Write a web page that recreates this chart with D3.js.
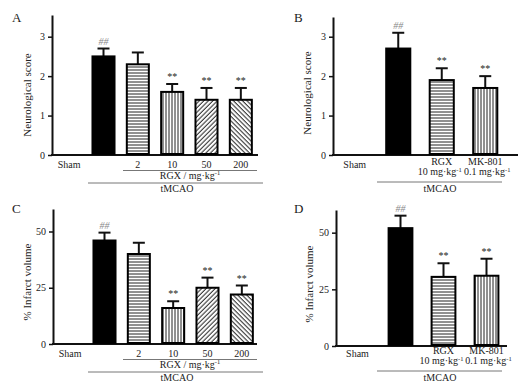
<!DOCTYPE html>
<html>
<head>
<meta charset="utf-8">
<script src="https://cdn.jsdelivr.net/npm/d3@7"></script>
<style>
  body { margin: 0; background: #fff; }
  svg { display: block; font-family: "Liberation Serif", "DejaVu Serif", serif; }
  text { fill: #222; }
</style>
</head>
<body>
<svg width="532" height="389"></svg>
<script>
const svg = d3.select('svg');

// data
const doseGroups = ['Sham', 'tMCAO', '2', '10', '50', '200'];
const drugGroups = ['Sham', 'tMCAO', 'RGX', 'MK-801'];

const scoreDoseMeans = [0, 2.5, 2.3, 1.6, 1.4, 1.4];
const scoreDoseErrs = [0, 0.2, 0.3, 0.2, 0.3, 0.3];
const scoreDrugMeans = [0, 2.7, 1.9, 1.7];
const scoreDrugErrs = [0, 0.4, 0.3, 0.3];

const infarctDoseMeans = [0, 46, 40, 16, 25, 22];
const infarctDoseErrs = [0, 3.5, 5, 3, 4.5, 4];
const infarctDrugMeans = [0, 52, 30.5, 31];
const infarctDrugErrs = [0, 5.5, 6, 7.5];

const doseMarks = ['', '##', '', '**', '**', '**'];
const drugMarks = ['', '##', '**', '**'];

const scoreTicks = [0, 1, 2, 3];
const infarctTicks = [0, 25, 50];

const doseFills = ['none', 'solid', 'horiz', 'vert', 'diagR', 'diagL'];
const drugFills = ['none', 'solid', 'horiz', 'vert'];

// hatch patterns
const defs = svg.append('defs');
const addPattern = (id, w, h, lines, rotate) => {
  const p = defs.append('pattern')
    .attr('id', id)
    .attr('patternUnits', 'userSpaceOnUse')
    .attr('width', w).attr('height', h);
  if (rotate) p.attr('patternTransform', `rotate(${rotate})`);
  p.append('rect').attr('width', w).attr('height', h).attr('fill', '#fff');
  lines.forEach(l => p.append('line')
    .attr('x1', l[0]).attr('y1', l[1]).attr('x2', l[2]).attr('y2', l[3])
    .attr('stroke', '#222').attr('stroke-width', 1));
};
addPattern('horiz', 6, 3, [[0, 1, 6, 1]]);
addPattern('vert', 3, 6, [[1, 0, 1, 6]]);
addPattern('diagR', 3.2, 6, [[1, 0, 1, 6]], 45);
addPattern('diagL', 3.2, 6, [[1, 0, 1, 6]], -45);

const fillOf = f => f === 'solid' ? '#000' : (f === 'none' ? 'none' : `url(#${f})`);

const drawPanel = (props) => {
  const {
    letter, letterPos, title, titlePos,
    groups, means, errs, marks, fills, ticks,
    xRange, axisEnd, zeroY, topY, yMax, pad
  } = props;

  const g = svg.append('g');

  const x = d3.scaleBand()
    .domain(groups)
    .range(xRange)
    .paddingInner(pad)
    .paddingOuter(pad / 2);

  const y = d3.scaleLinear()
    .domain([0, yMax])
    .range([zeroY, topY]);

  // y axis
  const yAxisG = g.append('g')
    .attr('transform', `translate(${xRange[0]},0)`)
    .call(d3.axisLeft(y).tickValues(ticks).tickFormat(d3.format('d'))
      .tickSize(4).tickSizeOuter(0).tickPadding(3));
  yAxisG.select('.domain').attr('stroke', '#111').attr('stroke-width', 2);
  yAxisG.selectAll('.tick line').attr('stroke', '#111').attr('stroke-width', 1.5);
  yAxisG.selectAll('.tick text')
    .attr('font-family', '"Liberation Serif", serif')
    .attr('font-size', 10).attr('fill', '#222');

  // baseline
  g.append('line')
    .attr('x1', xRange[0] - 1).attr('x2', axisEnd)
    .attr('y1', zeroY).attr('y2', zeroY)
    .attr('stroke', '#111').attr('stroke-width', 2);

  const data = groups.map((k, i) => ({ k, m: means[i], e: errs[i], mark: marks[i], fill: fills[i] }))
    .filter(d => d.m > 0);

  // error bars (upper only)
  const cap = 6;
  data.forEach(d => {
    const cx = x(d.k) + x.bandwidth() / 2;
    g.append('line')
      .attr('x1', cx).attr('x2', cx)
      .attr('y1', y(d.m)).attr('y2', y(d.m + d.e))
      .attr('stroke', '#111').attr('stroke-width', 2);
    g.append('line')
      .attr('x1', cx - cap).attr('x2', cx + cap)
      .attr('y1', y(d.m + d.e)).attr('y2', y(d.m + d.e))
      .attr('stroke', '#111').attr('stroke-width', 2);
    if (d.mark) {
      g.append('text')
        .attr('x', cx).attr('y', y(d.m + d.e) - 4)
        .attr('text-anchor', 'middle')
        .attr('font-size', 10)
        .attr('font-style', d.mark === '##' ? 'italic' : 'normal')
        .style('fill', d.mark === '##' ? '#888' : '#222')
        .text(d.mark);
    }
  });

  g.selectAll('rect.bar').data(data)
    .enter().append('rect')
      .attr('class', 'bar')
      .attr('x', d => x(d.k) + 1)
      .attr('width', x.bandwidth() - 2)
      .attr('y', d => y(d.m))
      .attr('height', d => zeroY - y(d.m) - 1)
      .attr('fill', d => fillOf(d.fill))
      .attr('stroke', '#000')
      .attr('stroke-width', 2);

  // panel letter and y title
  g.append('text')
    .attr('x', letterPos[0]).attr('y', letterPos[1])
    .attr('font-size', 13)
    .text(letter);

  g.append('text')
    .attr('transform', `translate(${titlePos[0]},${titlePos[1]}) rotate(-90)`)
    .attr('text-anchor', 'middle')
    .attr('font-size', 11)
    .text(title);

  return x;
};

const center = (x, k) => x(k) + x.bandwidth() / 2;

const hLine = (x1, x2, yy) => svg.append('line')
  .attr('x1', x1).attr('x2', x2).attr('y1', yy).attr('y2', yy)
  .attr('stroke', '#777').attr('stroke-width', 1);

const label = (cx, yy, t) => svg.append('text')
  .attr('x', cx).attr('y', yy)
  .attr('text-anchor', 'middle')
  .attr('font-size', 10)
  .text(t);

const supLabel = (base, cx, yy) => {
  const el = label(cx, yy, null);
  el.append('tspan').text(base);
  el.append('tspan').attr('dy', -3.5).attr('font-size', 6.5).text('-1');
  return el;
};

// dose panels (A, C)
const drawDoseLabels = (x, top) => {
  label(center(x, 'Sham'), top, 'Sham');
  doseGroups.slice(2).forEach(k => label(center(x, k), top, k));
  hLine(123, 257, top + 2.5);
  supLabel('RGX / mg·kg', 190, top + 10.5);
  hLine(88, 263, top + 15);
  label(177, top + 24, 'tMCAO');
};

// drug panels (B, D)
const drawDrugLabels = (x, top) => {
  label(center(x, 'Sham'), top, 'Sham');
  label(center(x, 'RGX'), top - 3, 'RGX');
  label(center(x, 'MK-801'), top - 3, 'MK-801');
  supLabel('10 mg·kg', center(x, 'RGX') - 2, top + 7);
  supLabel('0.1 mg·kg', center(x, 'MK-801') + 2, top + 7);
  hLine(377, 502, top + 14);
  label(440, top + 24, 'tMCAO');
};

const xA = drawPanel({
  letter: 'A', letterPos: [12, 22], title: 'Neurological score', titlePos: [31, 95],
  groups: doseGroups, means: scoreDoseMeans, errs: scoreDoseErrs, marks: doseMarks,
  fills: doseFills, ticks: scoreTicks,
  xRange: [52, 258], axisEnd: 258, zeroY: 155, topY: 15, yMax: 3.55, pad: 0.3
});
drawDoseLabels(xA, 168);

const xB = drawPanel({
  letter: 'B', letterPos: [294, 22], title: 'Neurological score', titlePos: [311, 93],
  groups: drugGroups, means: scoreDrugMeans, errs: scoreDrugErrs, marks: drugMarks,
  fills: drugFills, ticks: scoreTicks,
  xRange: [333, 507], axisEnd: 518, zeroY: 155, topY: 17, yMax: 3.5, pad: 0.4
});
drawDrugLabels(xB, 168);

const xC = drawPanel({
  letter: 'C', letterPos: [12, 213], title: '% Infarct volume', titlePos: [31, 282],
  groups: doseGroups, means: infarctDoseMeans, errs: infarctDoseErrs, marks: doseMarks,
  fills: doseFills, ticks: infarctTicks,
  xRange: [53, 259], axisEnd: 257, zeroY: 344, topY: 209, yMax: 60, pad: 0.3
});
drawDoseLabels(xC, 357);

const xD = drawPanel({
  letter: 'D', letterPos: [294, 213], title: '% Infarct volume', titlePos: [313, 284],
  groups: drugGroups, means: infarctDrugMeans, errs: infarctDrugErrs, marks: drugMarks,
  fills: drugFills, ticks: infarctTicks,
  xRange: [336, 508], axisEnd: 507, zeroY: 346, topY: 210, yMax: 60, pad: 0.4
});
drawDrugLabels(xD, 357);
</script>
</body>
</html>
